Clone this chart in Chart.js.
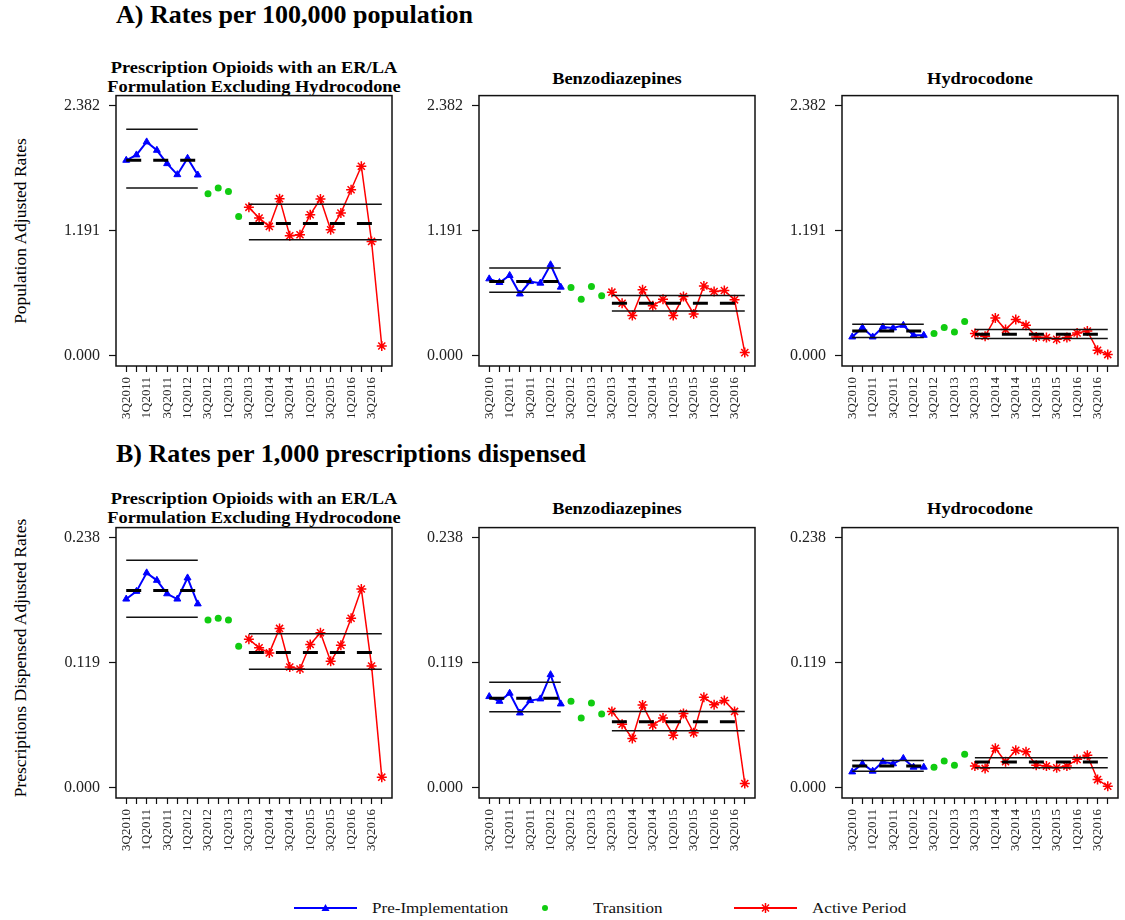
<!DOCTYPE html>
<html><head><meta charset="utf-8">
<script src="https://cdn.jsdelivr.net/npm/chart.js@4.4.1/dist/chart.umd.min.js"></script>
<style>
html,body{margin:0;padding:0;background:#fff;overflow:hidden}
#wrap{position:relative;width:1125px;height:920px;overflow:hidden;font-family:"Liberation Serif","Times New Roman",serif;color:#000}
canvas{position:absolute}
.main{position:absolute;font-weight:bold;font-size:26px;line-height:30px;white-space:nowrap}
.sub{position:absolute;font-weight:bold;font-size:17px;line-height:19px;text-align:center;width:360px;white-space:nowrap;transform:scaleX(1.08)}
.ylab{position:absolute;font-size:17.5px;line-height:20px;width:400px;text-align:center;transform:rotate(-90deg);white-space:nowrap}
.leg{position:absolute;font-size:15.5px;line-height:20px;white-space:nowrap;color:#111;transform:scaleX(1.1);transform-origin:left center}
.icon{position:absolute}
</style></head><body><div id="wrap">
<div class="main" style="left:116px;top:0px">A) Rates per 100,000 population</div>
<div class="main" style="left:116px;top:439px">B) Rates per 1,000 prescriptions dispensed</div>

<div class="sub" style="left:74px;top:58px">Prescription Opioids with an ER/LA<br>Formulation Excluding Hydrocodone</div>
<div class="sub" style="left:437px;top:69px">Benzodiazepines</div>
<div class="sub" style="left:800px;top:69px">Hydrocodone</div>
<div class="sub" style="left:74px;top:489px">Prescription Opioids with an ER/LA<br>Formulation Excluding Hydrocodone</div>
<div class="sub" style="left:437px;top:499px">Benzodiazepines</div>
<div class="sub" style="left:800px;top:499px">Hydrocodone</div>

<div class="ylab" style="left:-180px;top:221px">Population Adjusted Rates</div>
<div class="ylab" style="left:-180px;top:648px">Prescriptions Dispensed Adjusted Rates</div>

<svg class="icon" style="left:294px;top:902px" width="64" height="12"><line x1="0" y1="6" x2="63" y2="6" stroke="#0000ff" stroke-width="2"/><polygon points="31.5,2 35.5,9 27.5,9" fill="#0000ff"/></svg>
<div class="leg" style="left:372px;top:898px">Pre-Implementation</div>
<svg class="icon" style="left:540px;top:903px" width="10" height="10"><circle cx="5" cy="5" r="3" fill="#11cc11"/></svg>
<div class="leg" style="left:593px;top:898px">Transition</div>
<svg class="icon" style="left:734px;top:902px" width="64" height="12"><line x1="0" y1="6" x2="63" y2="6" stroke="#ff0000" stroke-width="2"/><g stroke="#ff0000" stroke-width="1.5"><line x1="31.5" y1="1" x2="31.5" y2="11"/><line x1="26.5" y1="6" x2="36.5" y2="6"/><line x1="28" y1="2.5" x2="35" y2="9.5"/><line x1="35" y1="2.5" x2="28" y2="9.5"/></g></svg>
<div class="leg" style="left:812px;top:898px">Active Period</div>
</div>
<script>
const quarters = ['3Q2010','4Q2010','1Q2011','2Q2011','3Q2011','4Q2011','1Q2012','2Q2012','3Q2012','4Q2012','1Q2013','2Q2013','3Q2013','4Q2013','1Q2014','2Q2014','3Q2014','4Q2014','1Q2015','2Q2015','3Q2015','4Q2015','1Q2016','2Q2016','3Q2016','4Q2016'];
const PRE_N = 8, TRANS_N = 4;
const popTicks = [0, 1.191, 2.382];
const rxTicks = [0, 0.119, 0.238];

// Limits arrays: [LCL, mean, UCL]
const erlaPop = [1.862,1.913,2.037,1.957,1.830,1.725,1.881,1.722, 1.544,1.598,1.566,1.328, 1.414,1.312,1.233,1.497,1.144,1.153,1.344,1.494,1.201,1.360,1.582,1.805,1.090,0.095];
const erlaPopPre = [1.598,1.862,2.157];
const erlaPopActive = [1.106,1.261,1.443];

const benzoPop = [0.734,0.699,0.766,0.590,0.708,0.693,0.868,0.655, 0.651,0.540,0.661,0.572, 0.607,0.502,0.384,0.629,0.477,0.540,0.384,0.565,0.400,0.667,0.613,0.623,0.534,0.032];
const benzoPopPre = [0.607,0.708,0.836];
const benzoPopActive = [0.429,0.502,0.575];

const hydroPop = [0.181,0.270,0.181,0.276,0.267,0.292,0.197,0.197, 0.213,0.270,0.229,0.328, 0.213,0.188,0.362,0.251,0.347,0.292,0.181,0.175,0.159,0.175,0.219,0.238,0.054,0.013];
const hydroPopPre = [0.175,0.238,0.302];
const hydroPopActive = [0.166,0.207,0.251];

const erlaRx = [0.1796,0.1869,0.2045,0.1974,0.1846,0.1796,0.1997,0.1750, 0.1597,0.1613,0.1597,0.1348, 0.1415,0.1332,0.1284,0.1517,0.1150,0.1131,0.1364,0.1476,0.1204,0.1358,0.1613,0.1891,0.1160,0.0103];
const erlaRxPre = [0.1623,0.1878,0.2165];
const erlaRxActive = [0.1128,0.1288,0.1466];

const benzoRx = [0.0869,0.0824,0.0901,0.0713,0.0831,0.0847,0.1077,0.0799, 0.0824,0.0665,0.0809,0.0703, 0.0728,0.0607,0.0470,0.0790,0.0598,0.0665,0.0502,0.0709,0.0524,0.0862,0.0792,0.0831,0.0728,0.0042];
const benzoRxPre = [0.0725,0.0853,0.1006];
const benzoRxActive = [0.0543,0.0630,0.0728];

const hydroRx = [0.0153,0.0230,0.0160,0.0249,0.0230,0.0281,0.0198,0.0198, 0.0198,0.0256,0.0217,0.0320, 0.0208,0.0186,0.0377,0.0249,0.0358,0.0345,0.0217,0.0208,0.0192,0.0208,0.0272,0.0310,0.0080,0.0016];
const hydroRxPre = [0.0160,0.0208,0.0262];
const hydroRxActive = [0.0192,0.0246,0.0287];

const FONT = '"Liberation Serif","Times New Roman",serif';
const wrap = document.getElementById('wrap');
const AREA_W = 276, AREA_H = 270;

const boxPlugin = {
  id: 'box',
  afterDatasetsDraw(chart) {
    const a = chart.chartArea, c = chart.ctx;
    c.save(); c.strokeStyle = '#111'; c.lineWidth = 1.5;
    c.strokeRect(a.left, a.top, a.right - a.left, a.bottom - a.top);
    c.restore();
  }
};

function limitSets(lim, x0, x1) {
  return [
    {data: [{x: x0, y: lim[2]}, {x: x1, y: lim[2]}], borderColor: '#111', borderWidth: 1.5, pointRadius: 0},
    {data: [{x: x0, y: lim[1]}, {x: x1, y: lim[1]}], borderColor: '#000', borderWidth: 3, borderDash: [15, 12], pointRadius: 0},
    {data: [{x: x0, y: lim[0]}, {x: x1, y: lim[0]}], borderColor: '#111', borderWidth: 1.5, pointRadius: 0}
  ];
}
function pts(vals, start) { return vals.map((v, i) => ({x: start + i + 1, y: v})); }

function config(values, preLim, actLim, ticks) {
  const yTop = ticks[ticks.length - 1];
  const n = values.length;
  const datasets = [
    ...limitSets(preLim, 1, PRE_N),
    ...limitSets(actLim, PRE_N + TRANS_N + 1, n),
    {data: pts(values.slice(0, PRE_N), 0), borderColor: '#0000ff', backgroundColor: '#0000ff', borderWidth: 2,
     pointStyle: 'triangle', pointRadius: 4, pointBorderWidth: 1},
    {data: pts(values.slice(PRE_N, PRE_N + TRANS_N), PRE_N), showLine: false, borderColor: '#11cc11', backgroundColor: '#11cc11',
     pointStyle: 'circle', pointRadius: 3.5, pointBorderWidth: 0},
    {data: pts(values.slice(PRE_N + TRANS_N), PRE_N + TRANS_N), borderColor: '#ff0000', backgroundColor: '#ff0000', borderWidth: 1.5,
     pointStyle: 'star', pointRadius: 5, pointBorderWidth: 1.5}
  ];
  return {
    type: 'line',
    data: {datasets},
    plugins: [boxPlugin],
    options: {
      responsive: false, maintainAspectRatio: false, animation: false, devicePixelRatio: 1,
      layout: {padding: {top: 4, right: 14, left: 0, bottom: 0}},
      plugins: {legend: {display: false}, tooltip: {enabled: false}},
      scales: {
        x: {
          type: 'linear', min: 0, max: n + 1, bounds: 'data',
          afterBuildTicks: s => { s.ticks = quarters.map((q, i) => ({value: i + 1})); },
          afterFit: s => { s.height = 75; },
          border: {display: false},
          grid: {display: true, drawOnChartArea: false, drawTicks: true, tickLength: 6, tickColor: '#111', tickWidth: 1.2},
          ticks: {autoSkip: false, minRotation: 90, maxRotation: 90, padding: 5, color: '#222',
            font: {family: FONT, size: 13}, callback: (v, i) => (i % 2 === 0 ? quarters[i] : '')}
        },
        y: {
          type: 'linear', min: -0.04 * yTop, max: 1.04 * yTop, bounds: 'data',
          afterBuildTicks: s => { s.ticks = ticks.map(v => ({value: v})); },
          afterFit: s => { s.width = 60; },
          border: {display: false},
          grid: {display: true, drawOnChartArea: false, drawTicks: true, tickLength: 7, tickColor: '#111', tickWidth: 1.2},
          ticks: {padding: 9, color: '#222', font: {family: FONT, size: 16}, callback: v => Number(v).toFixed(3)}
        }
      }
    }
  };
}

function panel(left, top, values, preLim, actLim, ticks) {
  const cv = document.createElement('canvas');
  let W = 350, H = 360;
  cv.width = W; cv.height = H;
  wrap.appendChild(cv);
  let chart = new Chart(cv, config(values, preLim, actLim, ticks));
  let a = chart.chartArea;
  const dw = AREA_W - (a.right - a.left), dh = AREA_H - (a.bottom - a.top);
  if (Math.abs(dw) > 0.01 || Math.abs(dh) > 0.01) {
    chart.destroy();
    W = Math.round(W + dw); H = Math.round(H + dh);
    cv.width = W; cv.height = H;
    cv.style.width = W + 'px'; cv.style.height = H + 'px';
    chart = new Chart(cv, config(values, preLim, actLim, ticks));
    a = chart.chartArea;
  }
  cv.style.left = Math.round(left - a.left) + 'px';
  cv.style.top = Math.round(top - a.top) + 'px';
}

panel(116, 96, erlaPop, erlaPopPre, erlaPopActive, popTicks);
panel(479, 96, benzoPop, benzoPopPre, benzoPopActive, popTicks);
panel(842, 96, hydroPop, hydroPopPre, hydroPopActive, popTicks);
panel(116, 528, erlaRx, erlaRxPre, erlaRxActive, rxTicks);
panel(479, 528, benzoRx, benzoRxPre, benzoRxActive, rxTicks);
panel(842, 528, hydroRx, hydroRxPre, hydroRxActive, rxTicks);
</script>
</body></html>
